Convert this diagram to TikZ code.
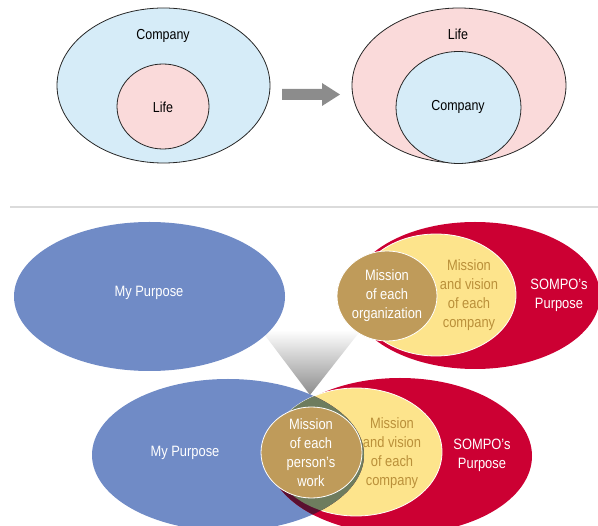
\documentclass[tikz,border=0pt]{standalone}
\usepackage{fontspec}
\setmainfont{Liberation Sans}[FakeStretch=0.86]
\usepackage{tikz}
\usetikzlibrary{positioning}

\definecolor{lightblue}{RGB}{214,236,248}
\definecolor{lightpink}{RGB}{250,218,218}
\definecolor{arrowgray}{RGB}{140,140,140}
\definecolor{purposeblue}{RGB}{112,139,198}
\definecolor{sompored}{RGB}{204,0,51}
\definecolor{visionyellow}{RGB}{253,228,140}
\definecolor{missionbrown}{RGB}{191,155,90}
\definecolor{goldtext}{RGB}{186,144,58}
\definecolor{overlapgreen}{RGB}{110,124,94}
\definecolor{overlapmaroon}{RGB}{90,16,48}

\begin{document}
\begin{tikzpicture}[x=1pt, y=-1pt,
        ring/.style={draw=black!85, line width=0.8pt},
        small/.style={font=\fontsize{14.5}{17}\selectfont},
        big/.style={font=\fontsize{15}{19}\selectfont, align=center},
        whitetext/.style={big, text=white},
        goldlabel/.style={big, text=goldtext}]
        \useasboundingbox (0,0) rectangle (598,526);
        \clip (0,0) rectangle (598,526);
        % Company holds Life
        \draw[ring, fill=lightblue] (163.5,85.5) ellipse [x radius=106.5pt, y radius=77.5pt];
        \draw[ring, fill=lightpink] (163,106.5) ellipse [x radius=46pt, y radius=42.5pt];
        \node[small] (companyA) at (163,36) {Company};
        \node[small] (lifeA) at (163,107) {Life};
        % Arrow
        \fill[arrowgray] (282,89) -- (322,89) -- (322,83) -- (340,94.5) -- (322,106) -- (322,100) -- (282,100) -- cycle;
        % Life holds Company
        \draw[ring, fill=lightpink] (459,85.5) ellipse [x radius=107pt, y radius=77.5pt];
        \draw[ring, fill=lightblue] (458.5,107.5) ellipse [x radius=62.5pt, y radius=56pt];
        \node[small] (lifeB) at (458,34) {Life};
        \node[small] (companyB) at (458,107) {Company};
        % Separator
        \draw[black!14, line width=2.5pt] (10,207) -- (598,207);
        % Funnel
        \shade[top color=white, bottom color=black!45] (261,330) -- (361,330) -- (310,395) -- cycle;
        % Upper purposes
        \fill[purposeblue] (149.5,296.5) ellipse [x radius=135.5pt, y radius=74.5pt];
        \fill[sompored] (475,295.5) ellipse [x radius=125pt, y radius=73.5pt];
        \filldraw[fill=visionyellow, draw=white, line width=0.8pt] (436,295) ellipse [x radius=80pt, y radius=61pt];
        \filldraw[fill=missionbrown, draw=white, line width=0.8pt] (387,296) ellipse [x radius=50pt, y radius=45pt];
        \node[whitetext] (purposeA) at (149,293) {My Purpose};
        \node[whitetext] (orgA) at (387,296) {Mission\\of each\\organization};
        \node[goldlabel] (visionA) at (469,295) {Mission\\and vision\\of each\\company};
        \node[whitetext] (sompoA) at (559,295) {SOMPO's\\Purpose};
        % Lower purposes
        \fill[purposeblue] (228,455) ellipse [x radius=136pt, y radius=76pt];
        \fill[sompored] (400,456) ellipse [x radius=132pt, y radius=78pt];
        \filldraw[fill=visionyellow, draw=white, line width=0.8pt] (356,452) ellipse [x radius=86pt, y radius=64pt];
        \begin{scope}
            \clip (228,455) ellipse [x radius=136pt, y radius=76pt];
            \fill[overlapmaroon] (400,456) ellipse [x radius=132pt, y radius=78pt];
            \fill[overlapgreen] (356,452) ellipse [x radius=86pt, y radius=64pt];
        \end{scope}
        \filldraw[fill=missionbrown, draw=white, line width=0.8pt] (311.5,452.5) ellipse [x radius=50.5pt, y radius=45.5pt];
        \node[whitetext] (purposeB) at (185,453) {My Purpose};
        \node[whitetext] (workB) at (311,453) {Mission\\of each\\person's\\work};
        \node[goldlabel] (visionB) at (392,453) {Mission\\and vision\\of each\\company};
        \node[whitetext] (sompoB) at (482,455) {SOMPO's\\Purpose};
    \end{tikzpicture}
\end{document}
